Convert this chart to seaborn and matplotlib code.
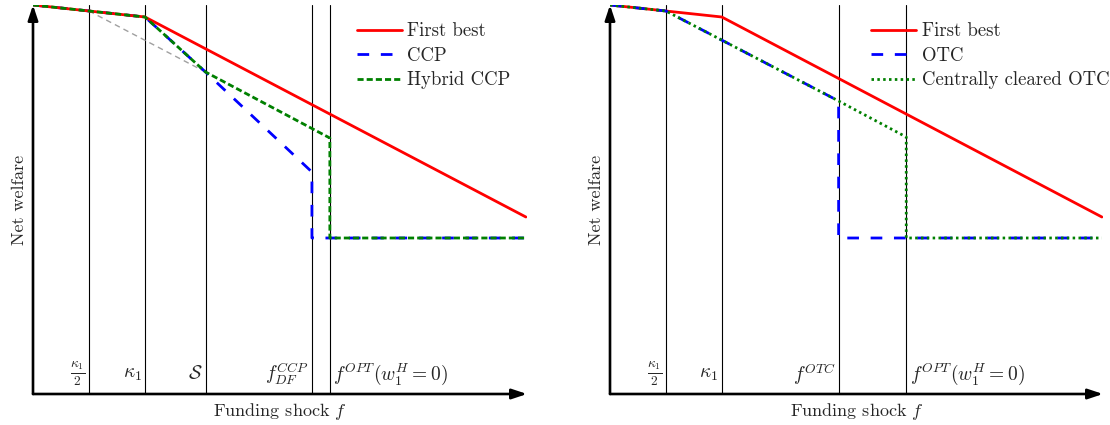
import matplotlib
matplotlib.use("Agg")
import matplotlib.pyplot as plt
import seaborn as sns

# positions on the funding-shock axis (kappa_1 = 1)
kappa_half = 0.5
kappa1 = 1.0
s_val = 1.54
f_df_ccp = 2.49
f_otc = 2.045
f_opt = 2.65
f_end = 4.40

# left panel: CCP
first_x = [0, kappa1, f_end]
first_y = [3.89, 3.77, 1.77]
ccp_x = [0, kappa1, s_val, f_df_ccp, f_df_ccp, f_end]
ccp_y = [3.89, 3.77, 3.22, 2.22, 1.56, 1.56]
hyb_x = [0, kappa1, s_val, f_opt, f_opt, f_end]
hyb_y = [3.89, 3.77, 3.22, 2.56, 1.56, 1.56]
gray_x = [kappa_half, s_val]
gray_y = [3.83, 3.22]

# right panel: OTC
otc_x = [0, kappa_half, f_otc, f_otc, f_end]
otc_y = [3.89, 3.83, 2.93, 1.56, 1.56]
cc_x = [0, kappa_half, f_otc, f_opt, f_opt, f_end]
cc_y = [3.89, 3.83, 2.93, 2.57, 1.56, 1.56]

left_marks = [kappa_half, kappa1, s_val, f_df_ccp, f_opt]
left_labels = [r'$\frac{\kappa_1}{2}$', r'$\kappa_1$', r'$\mathcal{S}$',
               r'$f_{DF}^{CCP}$', r'$f^{OPT}(w_1^H=0)$']
right_marks = [kappa_half, kappa1, f_otc, f_opt]
right_labels = [r'$\frac{\kappa_1}{2}$', r'$\kappa_1$', r'$f^{OTC}$',
                r'$f^{OPT}(w_1^H=0)$']

sns.set_style('white')
plt.rcParams['font.family'] = ['cmr10', 'DejaVu Serif']
plt.rcParams['mathtext.fontset'] = 'cm'
plt.rcParams['axes.formatter.use_mathtext'] = True

fig = plt.figure(figsize=(11.1, 4.25), dpi=100)
ax1 = fig.add_axes([33 / 1110, 31 / 425, 494 / 1110, 389 / 425])
ax2 = fig.add_axes([610 / 1110, 31 / 425, 493 / 1110, 389 / 425])

lw = 2.0
red = '#ff0000'
blue = '#0000ff'
green = '#008000'


def frame(ax, marks, labels, left_side):
    ax.set_xlim(0, 4.41)
    ax.set_ylim(0, 3.89)
    for sp in ax.spines.values():
        sp.set_visible(False)
    ax.set_xticks([])
    ax.set_yticks([])
    for m in marks:
        ax.axvline(m, color='black', lw=0.8, zorder=1)
    for m, lab, left in zip(marks, labels, left_side):
        if left:
            ax.text(m + 0.03, 0.2, lab, ha='left', va='center', fontsize=14)
        else:
            ax.text(m - 0.03, 0.2, lab, ha='right', va='center', fontsize=14)
    arrow = dict(arrowstyle='-|>,head_length=0.9,head_width=0.3', lw=1.9,
                 color='black', shrinkA=0, shrinkB=0)
    ax.annotate('', xy=(1, 0), xytext=(0, 0), xycoords='axes fraction',
                arrowprops=arrow, annotation_clip=False)
    ax.annotate('', xy=(0, 1), xytext=(0, 0), xycoords='axes fraction',
                arrowprops=arrow, annotation_clip=False)
    ax.set_xlabel(r'Funding shock $f$', fontsize=13, labelpad=5)
    ax.set_ylabel('Net welfare', fontsize=13, labelpad=4)


frame(ax1, left_marks, left_labels, [False, False, False, False, True])
frame(ax2, right_marks, right_labels, [False, False, False, True])

# left panel lines
sns.lineplot(x=gray_x, y=gray_y, sort=False, estimator=None, ax=ax1,
             color='#a0a0a0', lw=1.0, linestyle=(0, (4, 3)))
sns.lineplot(x=ccp_x, y=ccp_y, sort=False, estimator=None, ax=ax1, color=blue,
             lw=lw, linestyle=(0, (4.2, 4.2)), label='CCP', zorder=3)
sns.lineplot(x=first_x, y=first_y, sort=False, estimator=None, ax=ax1,
             color=red, lw=lw, label='First best', zorder=4)
sns.lineplot(x=hyb_x, y=hyb_y, sort=False, estimator=None, ax=ax1,
             color=green, lw=lw, linestyle=(0, (2.2, 1.1)), label='Hybrid CCP',
             zorder=5)

# right panel lines
sns.lineplot(x=first_x, y=first_y, sort=False, estimator=None, ax=ax2,
             color=red, lw=lw, label='First best', zorder=3)
sns.lineplot(x=otc_x, y=otc_y, sort=False, estimator=None, ax=ax2, color=blue,
             lw=lw, linestyle=(0, (4.2, 4.2)), label='OTC', zorder=4)
sns.lineplot(x=cc_x, y=cc_y, sort=False, estimator=None, ax=ax2, color=green,
             lw=lw, linestyle=(0, (0.9, 1.2)), label='Centrally cleared OTC',
             zorder=5)

for ax, order, anchor in [(ax1, ['First best', 'CCP', 'Hybrid CCP'], 0.655),
                          (ax2, ['First best', 'OTC', 'Centrally cleared OTC'], 0.53)]:
    h, l = ax.get_legend_handles_labels()
    hd = dict(zip(l, h))
    ax.legend([hd[k] for k in order], order, loc='upper left',
              bbox_to_anchor=(anchor, 0.955), frameon=False, fontsize=13.5,
              handlelength=2.4, handletextpad=0.3, labelspacing=0.35,
              borderpad=0, borderaxespad=0)

fig.savefig('out.png', dpi=100)
